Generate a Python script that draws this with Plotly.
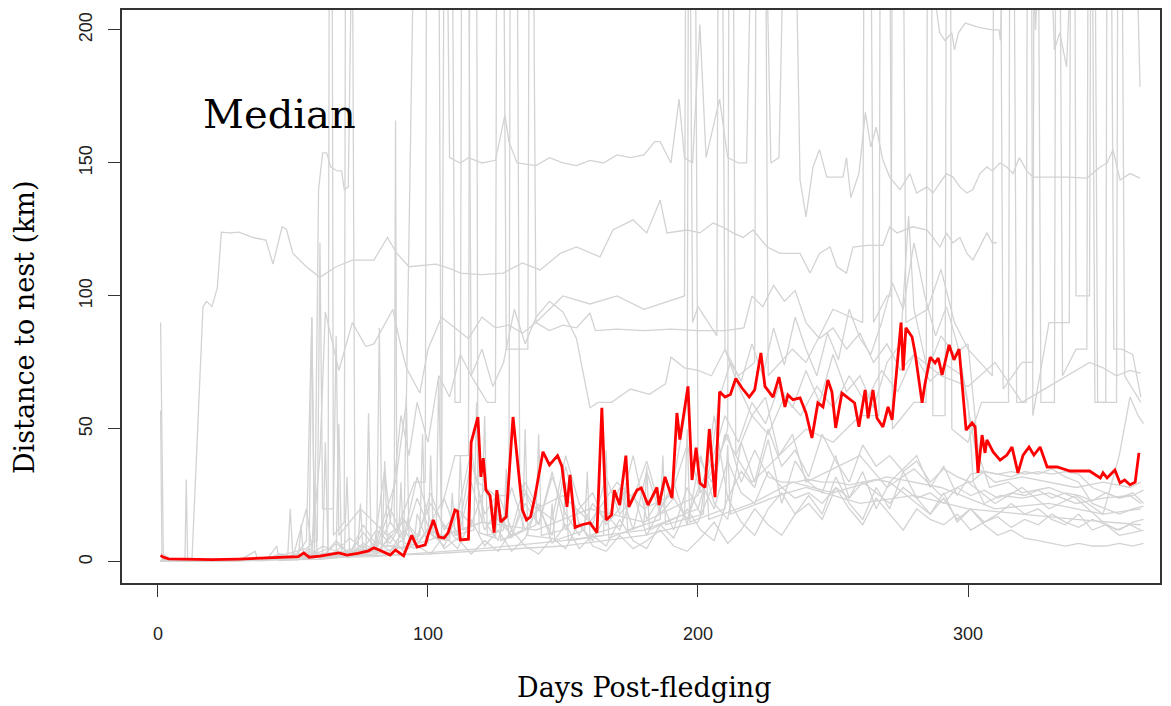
import plotly.graph_objects as go

# ---------------- data ----------------
median_track = [(1,2.5),(2,1.8),(4,1.2),(10,1.0),(20,0.9),(30,1.1),(40,1.4),(48,1.8),(52,2.0),(54,3.4),(56,1.8),(60,2.2),(64,2.8),(67,3.4),(70,2.6),(74,3.2),(78,4.2),(80,5.3),(82,4.5),(86,2.6),(88,4.5),(91,2.3),(94,10),(96,5.6),(99,6.4),(100,10),(102,15.8),(104,9.4),(106,9),(107.5,11),(110,19.5),(111,19),(112,8.3),(115,8.6),(116,45),(118.5,54.5),(119.6,32),(120.5,39),(121.5,27),(123,25),(124.5,11),(125.5,27),(127,15),(129,17),(131.5,54.5),(133,39.5),(135,19.5),(136.5,15.8),(138,17),(139.6,24.4),(142.6,41.4),(145,36.5),(148,40),(149.6,36),(151.5,20.7),(152.6,32.7),(154.5,13),(157,14),(160,14.7),(162.6,11),(164.4,58),(166,15.8),(168,17.7),(169,27),(171,21.4),(173.3,40),(174.4,20.7),(177.4,27),(179,27.8),(181.5,21.4),(184.8,28),(185.6,21.4),(187.8,32),(190.4,24),(192.2,56),(193.3,46),(196.3,66),(197.8,30.8),(199.3,43),(200.7,29.7),(202.6,28),(204.2,50),(206.3,24.4),(208,64),(210,62),(212,63),(214,69),(216.3,65.4),(219,62),(221,64.7),(223.3,78.6),(224.8,66),(226.7,63.5),(227.8,62),(230,69.5),(232.2,58.3),(233.3,62.8),(235.2,61),(237.8,61.7),(240,56),(242.2,46.6),(244.4,59.8),(246.3,58.3),(248.1,68.4),(249.6,64),(251,50.4),(253.3,63.5),(255.6,61.7),(258,59.8),(259.6,50.8),(261.9,64.7),(263,54),(264.8,64.7),(266.3,54),(268.5,50.8),(270.4,58.3),(271.9,53.4),(275.2,90),(276,72),(277,88),(279.3,84.6),(280.4,78.6),(283,59.8),(284,66.5),(286,77),(287.8,74.8),(289,76.7),(290.4,70.3),(293,81.6),(294.8,76),(296.7,80),(299.3,49.6),(301.5,52.3),(302.6,50.8),(303.7,33.5),(305.2,47.7),(306.3,41),(307,45.9),(309.3,41.4),(311.9,38.3),(314.4,40.2),(316.3,43.2),(318.5,33.5),(320.4,40.2),(322.6,43.2),(324.4,40.2),(326.7,43.2),(329.3,35.7),(333,35.7),(337.8,34.2),(345,34.2),(349,31.6),(350,33.5),(351.5,31.6),(354.4,34.6),(356.3,29.7),(358,30.8),(360,29),(361.9,30),(363.3,41)]

g1_days = [1,1.5,2,5,10,10.5,11,12.6,16.7,18,20,22,23.5,26.7,30,35,40,42.6,46,47.6,50,55,60,66,72,80,85,88.5,93,103,109,112,120,127.8,135,141.5,149,155,163.7,168.5,176,181,186,188.5,196,200.7,205.6,209,213,216.7,220.4,225.6,230.4,235,237.8,241.5,245,248.9,251.5,255,257.4,262.6,268.5,271,273.7,279.6,284.8,287,289.6,292,294.4,297,299.6,301.8,304.4,307,309,310.7]
g1_km = [90,40,3,0.5,0.5,31,0.5,0.5,96,98,96,103,124,123.7,124,122,121,112,126,125,116,111,107,111,113.5,113.5,122,116,111,112,110,108.6,108,108.6,112.4,109.8,116,118.4,114.7,124.8,128.6,123.7,136,123.7,124.8,123.7,127.4,126,123.7,122,124.8,118.4,116,116,116,108.6,116,118.4,111,108.6,118.4,119,119,126,123.7,126,124.8,122,118.4,123.7,120,122,116,113.5,118.4,123.7,120,120]

g2_days = [1,10,20,30,40,45,50,55,57,58,59.5,61,62.5,64,66.5,68,69,70.5,72,100,107,108,112,115,120,125,127,128.5,130,133,140,145,150,155,160,165,170,175,180,184,186,190,193,195,198,200.7,203,208,211,215,218,220,225,227,230,232,236,237.8,240,242.6,245,247.7,253.7,255,256.6,259.6,262,264,266,268.5,271,274.8,278.5,281,284.8,287,289.6,292,294.4,297,299.6,301.8,304.4,307,309,311.8,314.4,316.7,319,321.8,324,330,336.7,344,349,351.5,353.7,356.3,360,363.7]
g2_km = [0.5,0.5,1,0.5,1,3,1,8,92,4,140,153.8,153.8,148.5,147,147,140,141,250,250,250,152,150,152,150,151,160,168,158,150,149,152,150,149,151,150,153,152,153,158,158,150,174,152,150,202,152,174,152,150,150,250,250,150,152,250,250,143.6,129.7,148.5,155,144.7,144.7,152,137,146,169,156,163.5,151,144.7,140,146,138.7,141,138.7,142.5,146,144.7,141,138.7,140,146,148.5,147,150,148.5,146,152,147,144.7,144.7,144.7,144.3,148.5,150,155,143.6,146,144.3]

g3_track = [(1,0.5),(45,1.5),(80,5),(88,30),(92,60),(95,250),(285,250),(288,210),(289.5,199),(291.5,196),(294,199),(295,192.5),(296.5,199),(299,202.6),(304,201),(309,200),(311.5,200),(312,196),(314,250),(323,250),(325,200),(327,250),(330,250),(332,192.5),(334,199),(336.5,186),(339,250),(362,250),(363.7,178.6)]

g4_days = [1,1.5,5,30,50,55,57,60,62,64,67,72,77,80,85,87,90,92,97,100,105,110,115,120,125,130,135,140,145,150,155,160,162,170,180,190,200,210,217,220,224,228,232,236,240,245,250,255,260,265,270,275,280,290,300,310,320,330,340,345,350,355,360,364]
g4_km = [57,1,0.5,0.5,2,20,5,40,94,85,72,90,81,82,91,95,81,73,63.5,80,92,88,84,92,88,89,86,90,87,89,88,93.6,87,87.5,87,87.5,87,87,88,100,96,104,98,102,90,84,88,80,86,75,82,72,78,70,66,75,60,66,72,75,73,70,72,71]

g5_days = [1,40,60,80,84,86,90,93,96,100,104,108,112,116,120,124,128,132,136,140,145,150,155,158,160,163,168,175,182,188,190,195,200,205,210,215,220,225,230,235,240,250,260,270,280,290,300,310,320,330,340,350,356,360,363,365]
g5_km = [0.5,1,2,5,35,15,55,40,60,45,70,62,78,70,80,66,75,95,82,92,98,94,84,68,58,60,60,65,63,67,77,73,72,70,80,66,55,62,40,48,30,35,40,28,35,25,30,22,28,20,25,18,40,62,55,52]

j1_track = [(1,0.5),(50,1),(56,3),(57,92),(58,3),(63,5),(63.5,250),(64.5,250),(65,10),(69,15),(69.5,250),(72,250),(73,2),(80,4),(85,3),(90,8),(95,5),(100,12),(105,10),(106,250),(109,250),(110,60),(112,60),(112.5,250),(115,250),(116,70),(122,60),(125,60),(125.5,250),(128,250),(129,80),(137,80),(137.5,250),(139,250),(140,90),(150,100),(160,97),(170,100),(180,95),(195,100),(195.5,250),(197,250),(198,90),(200,96),(207,85),(207.5,250),(209,250),(210,80),(215,70),(221,75),(221.5,250),(225,250),(226,70),(235,80),(240,75),(250,95),(261,90),(261.5,250),(264,250),(265,90),(270,100),(271.5,100),(272,250),(276,250),(277,90),(285,95),(290,110),(295,90),(300,80),(309,70),(309.5,250),(312,250),(313,65),(320,75),(324,75),(324.5,250),(326,250),(327,60),(332,60),(332.5,250),(334,250),(335,70),(340,80),(344,80),(344.5,250),(346,250),(347,60),(351,60),(351.5,250),(353,250),(354,80),(357,80),(361,78),(364,62)]

j2_track = [(1,0.5),(40,1),(55,5),(58,8),(59,8),(60,120),(61,20),(65,20),(66,85),(67,10),(75,20),(85,10),(87.5,12),(88,166),(88.5,12),(95,30),(99,30),(99.5,250),(104,250),(105,20),(110,40),(115,40),(115.5,250),(118,250),(118.5,30),(125,25),(130,25),(130.5,250),(133,250),(134,30),(140,20),(150,25),(160,15),(170,30),(180,20),(190,25),(196,60),(196.5,250),(199,250),(200,40),(205,30),(211,50),(211.5,250),(213,250),(214,40),(220,30),(225,35),(230,40),(240,50),(250,45),(260,55),(267,55),(267.5,250),(271,250),(272,50),(280,60),(284.5,60),(285,250),(286.5,250),(287,55),(291.5,55),(292,250),(293.5,250),(294,50),(300,45),(305,60),(315,60),(315.5,250),(317,250),(318,60),(321.5,60),(322,250),(323.5,250),(324,55),(330,90),(337.5,90),(338,250),(339.5,250),(340,100),(345,100),(345.5,250),(347,250),(348,60),(355,60),(355.5,250),(357,250),(358,70),(364,60)]

m1_track = [(1,0.5),(60,1),(80,3),(100,8),(120,15),(140,12),(160,20),(180,15),(200,25),(205,40),(208,62),(212,75),(216,68),(220,82),(224,70),(228,88),(232,74),(236,92),(240,80),(244,70),(248,86),(252,76),(256,95),(260,84),(264,78),(268,90),(272,105),(276,95),(280,120),(284,100),(288,85),(292,96),(296,82),(300,60),(302,30),(306,22),(312,25),(320,24),(330,26),(340,22),(350,24),(360,25),(364,22)]
m2_track = [(1,0.5),(80,2),(120,5),(150,8),(180,12),(200,20),(210,55),(215,45),(220,60),(225,52),(230,66),(235,58),(240,72),(245,60),(250,78),(255,64),(260,70),(265,58),(270,75),(275,82),(278,130),(280,95),(285,72),(290,85),(295,78),(300,82),(304,40),(308,28),(315,30),(320,26),(330,28),(340,24),(350,15),(355,12),(360,14),(364,12)]
m3_track = [(1,0.5),(100,3),(150,6),(180,10),(200,15),(206,30),(210,48),(214,40),(220,55),(226,48),(232,62),(238,55),(244,66),(250,58),(256,70),(262,60),(268,72),(274,64),(280,78),(286,68),(292,74),(298,70),(304,35),(310,30),(320,32),(330,30),(340,28),(350,30),(360,28),(364,30)]

l7_track = [(1,0.5),(40,0.5),(44,6),(45,0.5),(52,0.8),(53,14),(54,1),(61,2),(62,45),(63,3),(69,2),(70,32),(71,4),(77,3),(78,56),(79,5),(83,4),(84,38),(85,6),(91,5),(92,62),(93,8),(97,10),(98,48),(99,12),(103,9),(104,70),(105,14),(111,10),(112,40),(113,12),(120,15),(121,55),(122,10),(128,12),(129,35),(130,9),(140,14),(141,48),(142,10),(150,12),(151,30),(152,8),(165,10),(166,42),(167,9),(180,14),(181,36),(182,12),(195,18),(196,50),(197,15),(210,20),(211,44),(212,18),(230,25),(240,28),(260,22),(280,25),(300,20),(320,18),(340,16),(364,14)]
l8_track = [(1,0.4),(30,0.5),(36,4),(37,0.5),(48,1),(49,20),(50,1.5),(57,2),(58,28),(59,2),(66,3),(67,52),(68,4),(74,3),(75,22),(76,3),(81,5),(82,88),(83,6),(89,6),(90,30),(91,5),(95,8),(96,18),(100,7),(101,40),(102,9),(108,8),(109,26),(110,10),(117,12),(118,60),(119,11),(125,9),(126,24),(127,8),(135,12),(136,50),(137,10),(145,9),(146,22),(147,8),(158,12),(159,34),(160,10),(172,14),(173,28),(174,12),(186,16),(187,40),(188,14),(202,18),(203,36),(204,16),(220,22),(235,30),(250,26),(270,32),(290,28),(310,20),(330,22),(350,18),(364,20)]

low_days = [1,6,11,16,21,26,31,36,41,46,51,56,61,66,71,76,81,86,91,96,101,106,111,116,121,126,131,136,141,146,151,156,161,166,171,176,181,186,191,196,201,206,211,216,221,226,231,236,241,246,251,256,261,266,271,276,281,286,291,296,301,306,311,316,321,326,331,336,341,346,351,356,361,365]
l1_km = [0.5,0.4,0.3,0.5,0.8,0.6,0.5,1.0, 2,1.5,3,2,6,4,9,5, 12,7,16,10,22,14,8,30, 12,20,9,26,14,32,18,10, 22,15,28,12,34,18,24,16, 30,20,38,26,22,34,28,24, 26,22,28,24,30,26,22,28, 24,26,22,28,25,27,24,26, 25,27,24,26,25,23,26,24,25,27]
l2_km = [0.3,0.5,0.4,0.6,0.5,0.4,0.7,0.6, 1,2.5,1.5,4,2,7,3,11, 5,15,8,24,11,6,18,42, 15,8,28,12,20,10,36,14, 8,18,12,26,10,20,30,14, 40,22,16,45,30,50,36,42, 32,48,38,30,44,36,40,34, 38,30,35,32,30,34,33,32, 34,33,35,32,30,22,20,18,20,21]
l3_km = [0.6,0.4,0.5,0.3,0.6,0.5,0.5,0.8, 1.2,0.8,2,1,3,1.5,5,2.5, 8,4,12,6,3,10,5,16, 6,12,4,9,22,7,14,5, 10,6,16,8,5,14,9,20, 12,8,24,15,10,20,26,18, 22,16,28,20,14,24,18,12, 20,16,14,18,12,15,17,13, 16,14,18,15,13,16,14,12,15,16]
l4_km = [0.4,0.5,0.6,0.5,0.4,0.5,0.6,0.5, 0.8,1.5,1,2.5,1.2,3.5,2,6, 3,10,4,7,14,5,9,3, 8,4,12,6,3,9,5,15, 6,4,10,5,8,12,6,4, 9,15,7,12,20,14,10,18, 25,18,32,22,16,28,20,34, 24,18,26,15,20,14,10,12, 9,8,7,6,7,6,6,7,6,7]
l5_km = [0.5,0.6,0.5,0.4,0.5,0.7,0.6,0.9, 1.5,3,1.2,5,2,8,3,14, 6,20,9,32,15,24,10,38, 18,26,12,30,20,16,40,22, 14,32,18,24,38,20,28,44, 26,36,48,30,42,32,30,30, 31,30,30,29,30,31,30,35, 40,28,36,25,33,34,33,34, 33,34,33,34,33,28,26,24,26,22]
l6_km = [0.5,0.4,0.6,0.5,0.5,0.4,0.6,0.7, 0.9,1.8,1,3,1.5,4,2.5,7, 4,9,16,8,26,12,20,14, 28,16,10,22,14,34,12,20, 26,14,20,40,16,24,12,28, 18,55,24,34,28,46,22,38, 30,26,40,24,34,20,30,26, 22,18,24,16,20,15,18,22, 18,20,16,14,18,12,14,10,11,12]

x_ticks = [0, 100, 200, 300]
y_ticks = [0, 50, 100, 150, 200]

# ---------------- figure ----------------
GREY = "#d3d3d3"
fig = go.Figure()

def unzip(track):
    return [p[0] for p in track], [p[1] for p in track]

grey_series = [
    (g1_days, g1_km), (g2_days, g2_km), unzip(g3_track), (g4_days, g4_km),
    (g5_days, g5_km), unzip(j1_track), unzip(j2_track), unzip(m1_track),
    unzip(m2_track), unzip(m3_track), unzip(l7_track), unzip(l8_track),
    (low_days, l1_km), (low_days, l2_km), (low_days, l3_km),
    (low_days, l4_km), (low_days, l5_km), (low_days, l6_km),
]
for xs, ys in grey_series:
    n = min(len(xs), len(ys))
    fig.add_trace(go.Scatter(x=xs[:n], y=ys[:n], mode="lines",
                             line=dict(color=GREY, width=1.3),
                             hoverinfo="skip", showlegend=False))

mx, my = unzip(median_track)
fig.add_trace(go.Scatter(x=mx, y=my, mode="lines",
                         line=dict(color="#ff0000", width=2.8),
                         showlegend=False, name="Median"))

tick_font = dict(family="Liberation Sans, Arial, sans-serif", size=18, color="#222")
serif = "DejaVu Serif, serif"

# the page body has an 8px margin, so the figure is 8px smaller than the window
fig.update_layout(
    width=1163, height=698,
    margin=dict(l=114, r=11, t=2, b=123, autoexpand=False),
    paper_bgcolor="white", plot_bgcolor="white",
    showlegend=False,
    xaxis=dict(range=[-13.3, 371.1], tickvals=x_ticks, ticktext=[str(v) for v in x_ticks],
               showgrid=False, zeroline=False, showline=True, mirror=True,
               linecolor="#333", linewidth=1.5, ticks="outside", ticklen=12,
               tickwidth=1.3, tickcolor="#333", tickfont=tick_font,
               ticklabelstandoff=22),
    yaxis=dict(range=[-7.9, 207.5], tickvals=y_ticks, ticktext=[str(v) for v in y_ticks],
               showgrid=False, zeroline=False, showline=True, mirror=True,
               linecolor="#333", linewidth=1.5, ticks="outside", ticklen=12,
               tickwidth=1.3, tickcolor="#333", tickfont=tick_font, tickangle=-90,
               ticklabelstandoff=9),
    annotations=[
        dict(text="Median", xref="paper", yref="paper", x=0.1513, y=0.819,
             xanchor="center", yanchor="middle", showarrow=False,
             font=dict(family=serif, size=40, color="black")),
        dict(text="Days Post-fledging", xref="paper", yref="paper", x=0.503, y=-0.183,
             xanchor="center", yanchor="middle", showarrow=False,
             font=dict(family=serif, size=27, color="black")),
        dict(text="Distance to nest (km)", xref="paper", yref="paper", x=-0.0934, y=0.4468,
             xanchor="center", yanchor="middle", showarrow=False, textangle=-90,
             font=dict(family=serif, size=27, color="black")),
    ],
)

fig.write_html("out.html")
